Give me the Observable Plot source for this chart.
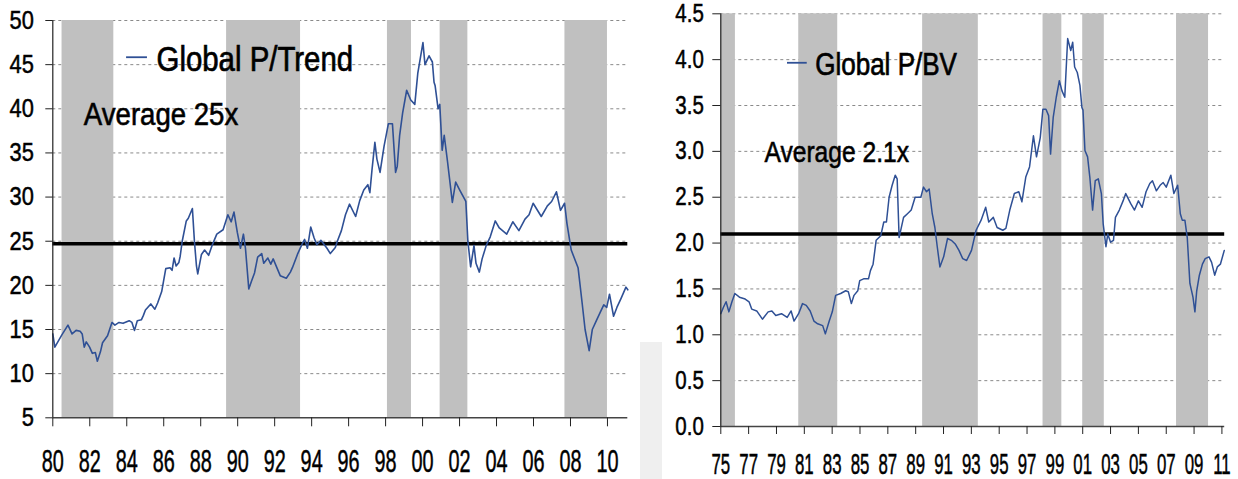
<!DOCTYPE html>
<html><head><meta charset="utf-8">
<script src="https://cdn.jsdelivr.net/npm/d3@7"></script>
<script src="https://cdn.jsdelivr.net/npm/@observablehq/plot@0.6"></script>
<style>
body{margin:0;background:#fff;}
#wrap{position:relative;width:1238px;height:479px;overflow:hidden;font-family:"Liberation Sans",Arial,sans-serif;background:#fff;}
#left{position:absolute;left:0;top:0;}
#right{position:absolute;left:640px;top:0;}
#shade{position:absolute;left:640px;top:342px;width:22px;height:137px;background:#efefef;}
</style></head><body>
<div id="wrap"><div id="left"></div><div id="right"></div><div id="shade"></div></div>
<script>
// ---------- Global P/Trend ----------
const trendYears = [1980.00,1980.11,1980.49,1980.82,1981.04,1981.26,1981.48,1981.59,1981.70,1981.81,1981.99,1982.14,1982.30,1982.41,1982.58,1982.69,1982.96,1983.20,1983.36,1983.58,1983.80,1984.13,1984.28,1984.42,1984.57,1984.79,1984.90,1985.01,1985.30,1985.52,1985.67,1985.89,1986.11,1986.34,1986.45,1986.56,1986.67,1986.82,1986.89,1987.00,1987.22,1987.33,1987.55,1987.66,1987.77,1987.84,1988.04,1988.21,1988.43,1988.61,1988.87,1989.21,1989.47,1989.65,1989.80,1989.98,1990.15,1990.31,1990.42,1990.60,1990.75,1990.91,1991.08,1991.30,1991.41,1991.63,1991.79,1991.92,1992.30,1992.63,1992.85,1992.96,1993.25,1993.51,1993.62,1993.77,1993.95,1994.13,1994.28,1994.50,1994.83,1995.01,1995.28,1995.39,1995.61,1995.83,1996.05,1996.38,1996.60,1996.82,1997.04,1997.15,1997.26,1997.42,1997.53,1997.70,1997.92,1998.15,1998.37,1998.54,1998.63,1998.76,1998.92,1999.14,1999.36,1999.58,1999.74,2000.02,2000.13,2000.35,2000.53,2000.62,2000.68,2000.84,2000.93,2001.06,2001.17,2001.35,2001.61,2001.79,2002.01,2002.34,2002.45,2002.60,2002.78,2002.89,2003.07,2003.22,2003.44,2003.66,2003.93,2004.15,2004.55,2004.88,2005.21,2005.54,2005.76,2005.98,2006.42,2006.75,2006.98,2007.24,2007.46,2007.68,2007.81,2008.04,2008.41,2008.63,2008.79,2009.01,2009.18,2009.40,2009.62,2009.80,2009.96,2010.11,2010.33,2010.51,2010.73,2011.00,2011.10];
const trendValues = [14.5,13.0,14.4,15.5,14.5,14.9,14.8,14.5,13.0,13.6,13.0,12.3,12.4,11.4,12.5,13.5,14.3,15.8,15.5,15.8,15.7,16.0,15.8,14.9,16.0,16.1,16.6,17.2,17.9,17.3,18.0,19.3,21.9,22.0,21.7,23.1,22.2,22.6,23.3,25.0,27.3,27.6,28.7,25.0,22.2,21.3,23.5,24.0,23.4,24.5,25.8,26.3,28.0,27.2,28.3,26.0,24.2,25.8,24.2,19.6,20.5,21.4,23.2,23.6,22.5,23.1,22.4,23.0,21.1,20.8,21.5,22.0,23.6,24.8,25.2,24.2,26.6,25.4,24.6,25.1,24.2,23.6,24.3,25.0,26.2,28.0,29.2,27.8,29.6,30.8,31.4,30.5,33.0,36.2,34.3,32.8,35.8,38.3,38.3,32.8,33.5,37.0,39.5,42.1,41.0,40.5,44.0,47.5,45.0,46.0,45.3,43.0,42.6,40.0,40.5,35.3,37.0,34.0,29.4,31.7,30.8,29.5,25.0,22.1,24.5,22.5,21.5,23.0,24.5,25.5,27.3,26.5,25.8,27.2,26.2,27.5,28.0,29.3,27.8,29.0,29.5,30.6,28.5,29.3,27.0,24.0,22.0,18.0,15.0,12.6,15.0,16.0,17.0,17.8,17.5,19.0,16.5,17.5,18.5,19.8,19.5];
const trendAverage = 24.7;
const trendYTicks = [5,10,15,20,25,30,35,40,45,50];
const trendXTicks = [1980,1982,1984,1986,1988,1990,1992,1994,1996,1998,2000,2002,2004,2006,2008,2010];
const trendBandStart = [1980.5,1989.4,1998.1,2000.95,2007.7];
const trendBandEnd   = [1983.3,1993.4,1999.4,2002.45,2010.0];

// ---------- Global P/BV ----------
const bvYears = [1975.00,1975.19,1975.38,1975.58,1975.80,1976.01,1976.34,1976.75,1977.03,1977.22,1977.58,1977.99,1978.40,1978.67,1978.95,1979.36,1979.77,1980.05,1980.26,1980.59,1980.87,1981.14,1981.42,1981.69,1981.96,1982.32,1982.51,1982.79,1983.01,1983.25,1983.61,1983.97,1984.16,1984.38,1984.57,1984.84,1984.98,1985.26,1985.61,1985.75,1985.94,1986.16,1986.49,1986.71,1986.90,1987.09,1987.31,1987.53,1987.67,1987.81,1988.13,1988.41,1988.68,1988.96,1989.37,1989.56,1989.78,1989.97,1990.19,1990.38,1990.55,1990.74,1991.01,1991.29,1991.56,1991.84,1992.11,1992.38,1992.66,1993.01,1993.34,1993.70,1994.03,1994.25,1994.58,1994.85,1995.26,1995.48,1995.76,1996.09,1996.41,1996.63,1996.91,1997.18,1997.46,1997.68,1997.95,1998.14,1998.36,1998.55,1998.69,1998.88,1999.10,1999.32,1999.51,1999.71,1999.92,2000.14,2000.28,2000.42,2000.61,2000.80,2000.94,2001.02,2001.16,2001.35,2001.51,2001.71,2001.90,2002.12,2002.34,2002.47,2002.67,2002.80,2003.00,2003.21,2003.35,2003.63,2003.90,2004.09,2004.45,2004.72,2005.00,2005.27,2005.55,2005.82,2006.01,2006.29,2006.56,2006.78,2007.00,2007.33,2007.55,2007.82,2008.01,2008.15,2008.34,2008.51,2008.70,2008.92,2009.06,2009.19,2009.38,2009.60,2009.80,2010.07,2010.26,2010.48,2010.67,2010.89,2011.17];
const bvValues = [1.23,1.30,1.36,1.25,1.36,1.45,1.41,1.39,1.36,1.28,1.26,1.17,1.25,1.26,1.21,1.23,1.19,1.26,1.15,1.23,1.34,1.32,1.26,1.15,1.12,1.10,1.01,1.15,1.25,1.43,1.45,1.48,1.47,1.34,1.43,1.48,1.59,1.61,1.61,1.70,1.77,2.03,2.08,2.23,2.23,2.50,2.63,2.74,2.70,2.06,2.28,2.32,2.36,2.50,2.50,2.61,2.56,2.59,2.32,2.17,1.96,1.74,1.85,2.05,2.03,1.99,1.92,1.83,1.81,1.92,2.14,2.25,2.39,2.23,2.28,2.17,2.14,2.16,2.36,2.54,2.56,2.45,2.72,2.83,3.17,2.94,3.15,3.46,3.46,3.39,2.97,3.37,3.59,3.77,3.66,3.59,4.23,4.10,4.19,3.92,3.86,3.72,3.48,3.45,3.01,2.94,2.72,2.36,2.68,2.70,2.54,2.21,1.96,2.10,2.01,2.03,2.28,2.36,2.46,2.54,2.43,2.36,2.46,2.39,2.56,2.65,2.68,2.57,2.63,2.66,2.61,2.74,2.54,2.63,2.32,2.25,2.25,2.06,1.56,1.41,1.25,1.48,1.65,1.77,1.83,1.85,1.79,1.65,1.74,1.77,1.92];
const bvAverage = 2.1;
const bvYTicks = [0,0.5,1,1.5,2,2.5,3,3.5,4,4.5];
const bvXTicks = [1975,1977,1979,1981,1983,1985,1987,1989,1991,1993,1995,1997,1999,2001,2003,2005,2007,2009,2011];
const bvBandStart = [1975.0,1980.6,1989.5,1998.15,2001.0,2007.74];
const bvBandEnd   = [1976.05,1983.4,1993.5,1999.5,2002.55,2010.04];

const LINE = "#2f5095";
const yy = d => String(d % 100).padStart(2, "0");
const FONT = "Liberation Sans, Arial, sans-serif";

function squeeze(nodes, s, sw) {
  nodes.forEach(t => {
    const tr = t.getAttribute("transform");
    if (tr) t.setAttribute("transform", tr + ` scale(${s},1)`);
    else {
      const x = parseFloat(t.getAttribute("x")) || 0;
      t.removeAttribute("x");
      t.setAttribute("transform", `translate(${x},0) scale(${s},1)`);
    }
    t.style.stroke = "#000";
    t.style.strokeWidth = sw + "px";
    t.style.paintOrder = "stroke";
  });
}
function axisTexts(svg, axis) {
  let n = svg.querySelectorAll(`g[aria-label="${axis}-axis tick label"] text`);
  if (!n.length) n = svg.querySelectorAll(`g[aria-label="${axis}-axis"] text`);
  return Array.from(n);
}
function byText(svg, s) {
  return Array.from(svg.querySelectorAll("text")).filter(t => t.textContent === s);
}

// ---------- left chart ----------
const trendData = trendYears.map((t, i) => ({t, v: trendValues[i]}));
const trendBands = trendBandStart.map((s, i) => ({s, e: trendBandEnd[i]}));
const left = Plot.plot({
  width: 640, height: 479,
  marginLeft: 52.3, marginRight: 12.7, marginTop: 20, marginBottom: 61.7,
  x: {domain: [1980, 2011.1], label: null},
  y: {domain: [5, 50], label: null},
  style: {fontFamily: FONT, background: "transparent", color: "#000", overflow: "visible"},
  marks: [
    Plot.ruleY(trendYTicks.filter(d => d > 5), {stroke: "#8a8a8a", strokeDasharray: "3,3", strokeWidth: 1}),
    Plot.rect(trendBands, {x1: "s", x2: "e", fill: "#c0c0c0"}),
    Plot.ruleY([trendAverage], {stroke: "#000", strokeWidth: 3.5}),
    Plot.line(trendData, {x: "t", y: "v", stroke: LINE, strokeWidth: 1.6}),
    Plot.ruleX([1980], {stroke: "#222", strokeWidth: 1.2}),
    Plot.ruleY([5], {stroke: "#444", strokeWidth: 1.5}),
    Plot.axisY(trendYTicks, {tickSize: 7, tickPadding: 12, fontSize: 26, tickFormat: d => String(d), stroke: "#222", label: null}),
    Plot.axisX(trendXTicks, {tickSize: 9, tickPadding: 23, fontSize: 31, tickFormat: yy, stroke: "#222", label: null}),
    Plot.ruleY([45.84], {x1: 1983.99, x2: 1985.12, stroke: LINE, strokeWidth: 1.8}),
    Plot.text(["Global P/Trend"], {x: 1985.61, y: 45.6, text: d => d, textAnchor: "start", fontSize: 35, fill: "#000"}),
    Plot.text(["Average 25x"], {x: 1981.68, y: 39.34, text: d => d, textAnchor: "start", fontSize: 31, fill: "#000"})
  ]
});
document.getElementById("left").appendChild(left);
squeeze(axisTexts(left, "y"), 0.84, 0.5);
squeeze(axisTexts(left, "x"), 0.64, 0.5);
squeeze(byText(left, "Global P/Trend"), 0.84, 0.7);
squeeze(byText(left, "Average 25x"), 0.89, 0.6);

// ---------- right chart ----------
const bvData = bvYears.map((t, i) => ({t, v: bvValues[i]}));
const bvBands = bvBandStart.map((s, i) => ({s, e: bvBandEnd[i]}));
const right = Plot.plot({
  width: 598, height: 479,
  marginLeft: 80.3, marginRight: 13.8, marginTop: 13.3, marginBottom: 53,
  x: {domain: [1975, 2011.2], label: null},
  y: {domain: [0, 4.5], label: null},
  style: {fontFamily: FONT, background: "transparent", color: "#000", overflow: "visible"},
  marks: [
    Plot.ruleY(bvYTicks.filter(d => d > 0), {stroke: "#8a8a8a", strokeDasharray: "3,3", strokeWidth: 1}),
    Plot.rect(bvBands, {x1: "s", x2: "e", fill: "#c0c0c0"}),
    Plot.ruleY([bvAverage], {stroke: "#000", strokeWidth: 3.5}),
    Plot.line(bvData, {x: "t", y: "v", stroke: LINE, strokeWidth: 1.5}),
    Plot.ruleX([1975], {stroke: "#222", strokeWidth: 1.2}),
    Plot.ruleY([0], {stroke: "#444", strokeWidth: 1.5}),
    Plot.axisY(bvYTicks, {tickSize: 8, tickPadding: 9, fontSize: 25, tickFormat: d => d.toFixed(1), stroke: "#222", label: null}),
    Plot.axisX(bvXTicks, {tickSize: 8, tickPadding: 19, fontSize: 29, tickFormat: yy, stroke: "#222", label: null}),
    Plot.ruleY([3.966], {x1: 1979.79, x2: 1981.21, stroke: LINE, strokeWidth: 1.8}),
    Plot.text(["Global P/BV"], {x: 1981.78, y: 3.946, text: d => d, textAnchor: "start", fontSize: 31, fill: "#000"}),
    Plot.text(["Average 2.1x"], {x: 1978.14, y: 2.986, text: d => d, textAnchor: "start", fontSize: 30, fill: "#000"})
  ]
});
document.getElementById("right").appendChild(right);
squeeze(axisTexts(right, "y"), 0.82, 0.5);
squeeze(axisTexts(right, "x"), 0.58, 0.5);
squeeze(byText(right, "Global P/BV"), 0.84, 0.7);
squeeze(byText(right, "Average 2.1x"), 0.82, 0.6);
</script>
</body></html>
